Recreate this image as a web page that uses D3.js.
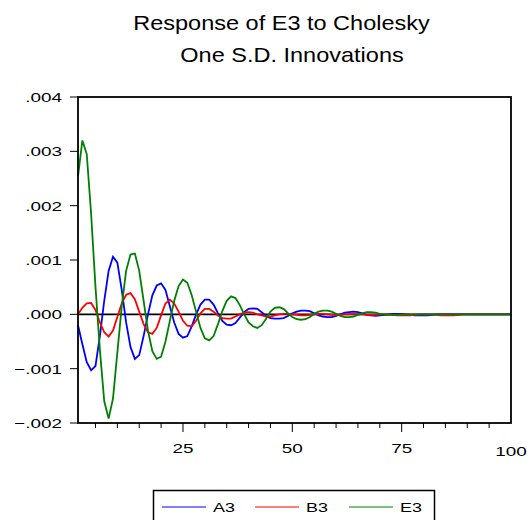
<!DOCTYPE html>
<html>
<head>
<meta charset="utf-8">
<script src="https://cdn.jsdelivr.net/npm/d3@7"></script>
<style>
  body { margin: 0; background: #fff; }
  text { font-family: "Liberation Sans", Arial, sans-serif; fill: #000; }
</style>
</head>
<body>
<div id="chart"></div>
<script>

// impulse responses, in units of 1e-3, periods 1..100
const periods = d3.range(1, 101);

const a3 = [
  -0.20, -0.55, -0.88, -1.03, -0.95, -0.40, 0.25, 0.80, 1.06, 0.95,
  0.45, -0.15, -0.60, -0.82, -0.75, -0.40, 0.00, 0.35, 0.53, 0.57,
  0.45, 0.15, -0.15, -0.36, -0.43, -0.40, -0.22, 0.00, 0.18, 0.27,
  0.27, 0.18, 0.02, -0.12, -0.19, -0.20, -0.16, -0.06, 0.04, 0.10,
  0.11, 0.10, 0.04, -0.03, -0.07, -0.08, -0.08, -0.07, -0.03, 0.02,
  0.05, 0.07, 0.07, 0.06, 0.02, -0.02, -0.04, -0.05, -0.05, -0.03,
  0.00, 0.03, 0.04, 0.05, 0.04, 0.02, -0.01, -0.02, -0.03, -0.02,
  -0.01, 0.00, 0.01, 0.01, 0.01, 0.00, -0.01, -0.02, -0.02, -0.02,
  -0.02, -0.01, 0.00, 0.00, 0.00, 0.00, 0.00, 0.00, 0.00, 0.00,
  0.00, 0.00, 0.00, 0.00, 0.00, 0.00, 0.00, 0.00, 0.00, 0.00
];

const b3 = [
  0.00, 0.12, 0.20, 0.21, 0.08, -0.15, -0.33, -0.41, -0.30, -0.05,
  0.20, 0.36, 0.39, 0.28, 0.05, -0.18, -0.33, -0.36, -0.25, -0.02,
  0.20, 0.27, 0.20, 0.05, -0.12, -0.21, -0.22, -0.12, 0.02, 0.10,
  0.10, 0.05, -0.02, -0.07, -0.08, -0.08, -0.04, 0.00, 0.03, 0.04,
  0.03, 0.00, -0.02, -0.04, -0.04, -0.02, 0.00, 0.01, 0.01, 0.00,
  -0.01, -0.02, -0.02, -0.01, 0.00, 0.01, 0.01, 0.00, -0.01, -0.01,
  -0.01, 0.00, 0.00, 0.01, 0.00, 0.00, -0.01, -0.01, -0.01, 0.00,
  0.00, 0.00, -0.01, -0.02, -0.02, -0.02, -0.02, -0.01, 0.00, 0.00,
  0.00, 0.00, -0.01, -0.02, -0.02, -0.02, -0.02, -0.01, 0.00, 0.00,
  0.00, 0.00, 0.00, 0.00, 0.00, 0.00, 0.00, 0.00, 0.00, 0.00
];

const e3 = [
  2.54, 3.20, 2.95, 1.85, 0.50, -0.65, -1.60, -1.92, -1.55, -0.70,
  0.15, 0.80, 1.10, 1.12, 0.80, 0.25, -0.30, -0.68, -0.82, -0.78,
  -0.50, -0.12, 0.25, 0.52, 0.64, 0.58, 0.35, 0.05, -0.25, -0.44,
  -0.48, -0.40, -0.18, 0.06, 0.25, 0.33, 0.30, 0.17, 0.00, -0.15,
  -0.22, -0.25, -0.20, -0.08, 0.05, 0.12, 0.13, 0.10, 0.02, -0.05,
  -0.09, -0.10, -0.09, -0.05, 0.01, 0.05, 0.07, 0.07, 0.05, 0.01,
  -0.03, -0.05, -0.05, -0.04, -0.01, 0.02, 0.04, 0.04, 0.03, 0.01,
  0.00, -0.01, -0.01, -0.01, 0.00, 0.00, 0.00, 0.00, 0.00, 0.00,
  0.00, 0.00, 0.00, 0.00, 0.00, 0.00, 0.00, 0.00, 0.00, 0.00,
  0.00, 0.00, 0.00, 0.00, 0.00, 0.00, 0.00, 0.00, 0.00, 0.00
];

const seriesNames = ["A3", "B3", "E3"];
const seriesColors = ["#0000ff", "#ff0000", "#008000"];
const yTicks = [-0.002, -0.001, 0, 0.001, 0.002, 0.003, 0.004];
const xMajor = [25, 50, 75, 100];
const xMinor = d3.range(5, 100, 5);
const titleLines = ["Response of E3 to Cholesky", "One S.D. Innovations"];

const width = 531, height = 520;
const plotLeft = 78, plotRight = 511, plotTop = 97, plotBottom = 423;
const stretch = 1.4;   // small labels in the original are drawn wide

const svg = d3.select("#chart").append("svg")
  .attr("width", width).attr("height", height);

const x = d3.scaleLinear().domain([1, 100]).range([plotLeft, plotRight]);
const y = d3.scaleLinear().domain([-0.002, 0.004]).range([plotBottom, plotTop]);

// title
const titleX = [281.5, 292];
svg.selectAll(".title").data(titleLines).enter().append("text")
  .attr("class", "title")
  .attr("transform", (d, i) => `translate(${titleX[i]},${30 + i * 32}) scale(1.12,1)`)
  .attr("text-anchor", "middle")
  .style("font-size", "21px")
  .text(d => d);

// y axis labels + ticks
const fmt = v => d3.format(".3f")(v).replace("0.", ".");
svg.selectAll(".ytick").data(yTicks).enter().append("line")
  .attr("x1", plotLeft - 8).attr("x2", plotLeft)
  .attr("y1", d => y(d)).attr("y2", d => y(d))
  .attr("stroke", "#000").attr("stroke-width", 1);
svg.selectAll(".ylab").data(yTicks).enter().append("text")
  .attr("transform", d => `translate(62,${y(d) + 5}) scale(${stretch},1)`)
  .attr("text-anchor", "end")
  .style("font-size", "13.5px")
  .text(fmt);

// x ticks
svg.selectAll(".xminor").data(xMinor).enter().append("line")
  .attr("x1", d => x(d)).attr("x2", d => x(d))
  .attr("y1", plotBottom).attr("y2", d => plotBottom + (d % 25 === 0 ? 9 : 5))
  .attr("stroke", "#000").attr("stroke-width", 1);
svg.selectAll(".xlab").data(xMajor).enter().append("text")
  .attr("transform", d => `translate(${x(d)},${d === 100 ? 456 : 453}) scale(${stretch},1)`)
  .attr("text-anchor", "middle")
  .style("font-size", "13.5px")
  .text(d => d);

// zero line
svg.append("line")
  .attr("x1", plotLeft).attr("x2", plotRight)
  .attr("y1", y(0)).attr("y2", y(0))
  .attr("stroke", "#000").attr("stroke-width", 1.8);

// series
const allSeries = [a3, b3, e3];
const line = d3.line()
  .x((d, i) => x(periods[i]))
  .y(d => y(d / 1000));
svg.selectAll(".series").data(allSeries).enter().append("path")
  .attr("class", "series")
  .attr("d", d => line(d))
  .attr("fill", "none")
  .attr("stroke", (d, i) => seriesColors[i])
  .attr("stroke-width", 1.8);

// frame
svg.append("rect")
  .attr("x", plotLeft).attr("y", plotTop)
  .attr("width", plotRight - plotLeft).attr("height", plotBottom - plotTop)
  .attr("fill", "none").attr("stroke", "#000").attr("stroke-width", 1.8);

// legend
const legend = svg.append("g");
legend.append("rect")
  .attr("x", 153.5).attr("y", 490.5).attr("width", 281).attr("height", 40)
  .attr("fill", "#fff").attr("stroke", "#000").attr("stroke-width", 1.5);
const legX = [162, 255, 349];
const items = legend.selectAll(".item").data(seriesNames).enter().append("g")
  .attr("transform", (d, i) => `translate(${legX[i]},507)`);
items.append("line")
  .attr("x1", 0).attr("x2", 44)
  .attr("stroke", (d, i) => seriesColors[i]).attr("stroke-width", 1.2);
items.append("text")
  .attr("transform", `translate(51,5) scale(1.33,1)`)
  .style("font-size", "13.5px")
  .text(d => d);
</script>
</body>
</html>
